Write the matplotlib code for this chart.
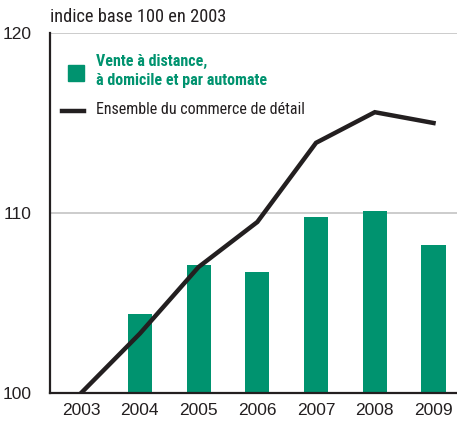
import matplotlib
matplotlib.use("Agg")
import matplotlib.pyplot as plt
from matplotlib import font_manager

years = ["2003", "2004", "2005", "2006", "2007", "2008", "2009"]
vad_values = [None, 104.4, 107.1, 106.7, 109.8, 110.1, 108.2]
commerce_values = [100.0, 103.3, 107.0, 109.5, 113.9, 115.6, 115.0]
y_ticks = [100, 110, 120]
label_bars = "Vente à distance,\nà domicile et par automate"
label_line = "Ensemble du commerce de détail"
y_title = "indice base 100 en 2003"

names = {f.name for f in font_manager.fontManager.ttflist}
condensed = None
for cand in ["Liberation Sans Narrow", "Roboto Condensed", "Open Sans Condensed", "DejaVu Sans Condensed"]:
    if cand in names:
        condensed = cand
        break
plt.rcParams["font.family"] = ["Liberation Sans", "DejaVu Sans"]
leg_family = [condensed, "DejaVu Sans"] if condensed else ["Liberation Sans", "DejaVu Sans"]
leg_size = 11.5 if condensed else 10.2
title_family = leg_family
title_size = 13.2 if condensed else 11.8

green = "#00936f"
fig = plt.figure(figsize=(4.57, 4.23), dpi=100)
ax = fig.add_axes([50 / 457, 30 / 423, 407 / 457, 360 / 423])

x = list(range(len(years)))
bx = [i for i, v in zip(x, vad_values) if v is not None]
bv = [v - 100 for v in vad_values if v is not None]
ax.bar(bx, bv, bottom=100, width=0.41, color=green, zorder=2)
ax.plot(x, commerce_values, color="#231f20", lw=3.2, zorder=3, solid_joinstyle="miter")

ax.set_ylim(100, 120)
ax.set_xlim(-0.53, 6.4)
ax.set_yticks(y_ticks)
ax.set_xticks(x)
ax.set_xticklabels(years)
ax.tick_params(axis="both", length=0, labelsize=12.5, colors="#231f20")
ax.tick_params(axis="y", pad=13)
ax.tick_params(axis="x", pad=7)
for yv in y_ticks[1:]:
    ax.axhline(yv, color="#c8c8c8", lw=1.3, zorder=1)
for s in ["top", "right"]:
    ax.spines[s].set_visible(False)
for s in ["left", "bottom"]:
    ax.spines[s].set_color("#231f20")
    ax.spines[s].set_linewidth(1.6)

fig.text(50 / 457, 1 - 17 / 423, y_title, fontsize=title_size, family=title_family,
         color="#231f20", va="center", ha="left")

# legend
fig.patches.append(plt.Rectangle((68 / 457, 1 - 81 / 423), 16 / 457, 16 / 423,
                                 transform=fig.transFigure, color=green))
fig.text(96 / 457, 1 - 71 / 423, label_bars, fontsize=leg_size, fontweight="bold",
         family=leg_family, color=green, va="center", ha="left", linespacing=1.3)
fig.lines.append(plt.Line2D([62 / 457, 84 / 457], [1 - 111 / 423, 1 - 111 / 423],
                            transform=fig.transFigure, color="#231f20", lw=3.2))
fig.text(96 / 457, 1 - 110 / 423, label_line, fontsize=leg_size, family=leg_family,
         color="#231f20", va="center", ha="left")

fig.savefig("out.png", dpi=100)
